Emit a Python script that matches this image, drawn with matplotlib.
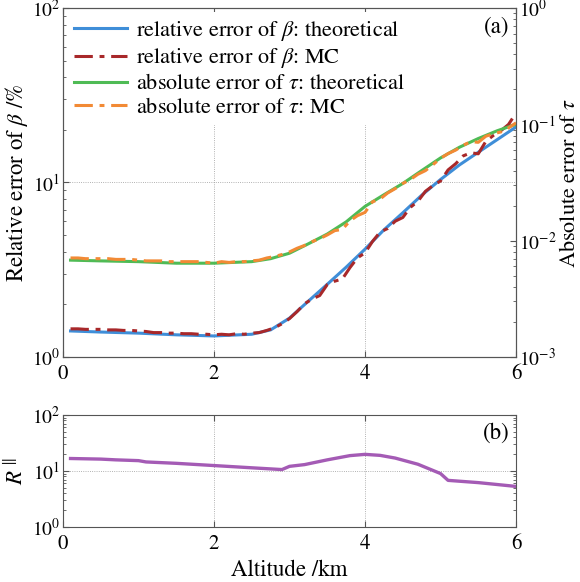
import numpy as np
import matplotlib
matplotlib.use("Agg")
import matplotlib.pyplot as plt
from matplotlib.ticker import LogLocator, NullFormatter

plt.rcParams["font.family"] = ["STIXGeneral", "DejaVu Serif"]
plt.rcParams["mathtext.fontset"] = "stix"

# theoretical curves
alt_theo = [0.1, 0.5, 1.0, 1.5, 2.0, 2.5, 2.75, 3.0, 3.25, 3.5, 3.75, 4.0, 4.25, 4.5,
            4.75, 5.0, 5.25, 5.5, 5.75, 6.0]
beta_theo = [1.41, 1.39, 1.37, 1.34, 1.32, 1.35, 1.43, 1.67, 2.09, 2.61, 3.27, 4.15, 5.35,
             6.7, 8.45, 10.4, 12.6, 14.9, 17.6, 20.8]
tau_theo = [0.0068, 0.0067, 0.0066, 0.0064, 0.0064, 0.0066, 0.0070, 0.0078, 0.0094,
            0.0114, 0.0145, 0.0197, 0.0248, 0.031, 0.040, 0.0514, 0.0635, 0.0755, 0.088,
            0.100]

# Monte Carlo curves, every 0.1 km
alt_mc = np.round(np.arange(0.1, 6.01, 0.1), 1)
beta_mc = [1.45, 1.45, 1.44, 1.44, 1.44, 1.43, 1.43, 1.42, 1.42, 1.41,
           1.40, 1.38, 1.38, 1.37, 1.37, 1.36, 1.36, 1.35, 1.35, 1.34,
           1.35, 1.34, 1.36, 1.35, 1.37, 1.38, 1.42, 1.47, 1.55, 1.66,
           1.82, 2.02, 2.15, 2.25, 2.60, 2.72, 2.80, 3.25, 3.7, 3.95,
           4.6, 5.2, 5.45, 6.0, 6.3, 7.2, 7.8, 8.9, 9.6, 10.2,
           11.8, 12.8, 14.2, 14.8, 14.6, 17.2, 18.6, 19.8, 21.5, 25.0]
tau_mc = [0.0071, 0.0071, 0.0070, 0.0070, 0.0070, 0.0070, 0.0069, 0.0069, 0.0069, 0.0068,
          0.0067, 0.0067, 0.0067, 0.0066, 0.0066, 0.0066, 0.0066, 0.0066, 0.0065, 0.0064,
          0.0066, 0.0065, 0.0066, 0.0066, 0.0067, 0.0068, 0.0071, 0.0073, 0.0076, 0.0080,
          0.0086, 0.0091, 0.0098, 0.0104, 0.0112, 0.0122, 0.0125, 0.0148, 0.0164, 0.0175,
          0.0216, 0.0228, 0.0257, 0.0280, 0.0310, 0.0335, 0.0372, 0.0400, 0.0450, 0.0510,
          0.0560, 0.0600, 0.0660, 0.0710, 0.0700, 0.0790, 0.0830, 0.0860, 0.0930, 0.1030]

# ratio panel (b)
alt_r = [0.1, 0.5, 0.7, 1.0, 1.1, 1.5, 2.0, 2.5, 2.9, 3.0, 3.2, 3.5, 3.8, 4.0, 4.2,
         4.4, 4.7, 5.0, 5.1, 5.5, 6.0]
ratio = [16.7, 16.3, 15.8, 15.3, 14.5, 13.7, 12.5, 11.4, 10.6, 12.1, 13.0, 15.8, 18.8,
         19.8, 19.0, 17.0, 13.2, 9.0, 6.8, 6.2, 5.3]

c_blue = "#3f8ed8"
c_red = "#a8282a"
c_green = "#4fbb55"
c_orange = "#f28a35"
c_purple = "#a45bb5"
dashdot = (0, (6, 2.2, 1.6, 2.2))
fs_tick = 14
fs_lab = 16.5

fig = plt.figure(figsize=(5.8, 5.82), dpi=100)
ax = fig.add_axes([0.1086, 0.3866, 0.7811, 0.5997])
ax2 = ax.twinx()
axb = fig.add_axes([0.1086, 0.0945, 0.7811, 0.1925])

l1, = ax.plot(alt_theo, beta_theo, color=c_blue, lw=2.2)
l2, = ax.plot(alt_mc, beta_mc, color=c_red, lw=2.2, linestyle=dashdot)
l3, = ax2.plot(alt_theo, tau_theo, color=c_green, lw=2.2)
l4, = ax2.plot(alt_mc, tau_mc, color=c_orange, lw=2.2, linestyle=dashdot)

ax.set_yscale("log")
ax.set_ylim(1, 100)
ax2.set_yscale("log")
ax2.set_ylim(1e-3, 1)
ax.set_xlim(0, 6)
ax.set_xticks([0, 2, 4, 6])

ax.set_ylabel(r"Relative error of $\beta$ /%", fontsize=fs_lab)
ax.yaxis.set_label_coords(-0.072, 0.5)
ax2.set_ylabel(r"Absolute error of $\tau$", fontsize=16)
ax2.yaxis.set_label_coords(1.096, 0.5)

ax.grid(True, which="major", color="#999999", lw=0.6, linestyle=":")
ax.grid(False, which="minor")

for a in (ax, ax2, axb):
    a.tick_params(which="both", direction="in", labelsize=fs_tick, pad=2, color="#555555")
    a.tick_params(which="major", length=4)
    a.tick_params(which="minor", length=2.5)
    for s in a.spines.values():
        s.set_color("#555555")
ax.tick_params(which="both", top=True, right=False)
ax.tick_params(axis="x", pad=5, labelsize=15)
ax2.tick_params(which="both", right=True)
axb.tick_params(which="both", top=True, right=True)
axb.tick_params(axis="x", pad=5, labelsize=15)

leg = ax2.legend([l1, l2, l3, l4],
                 [r"relative error of $\beta$: theoretical",
                  r"relative error of $\beta$: MC",
                  r"absolute error of $\tau$: theoretical",
                  r"absolute error of $\tau$: MC"],
                 loc="upper left", fontsize=16, handlelength=2.4, frameon=True,
                 facecolor="white", edgecolor="none", framealpha=1,
                 borderaxespad=0.2, borderpad=0.3, labelspacing=0.15,
                 handletextpad=0.4)
ax.text(0.985, 0.975, "(a)", transform=ax.transAxes, ha="right", va="top",
        fontsize=fs_lab)

axb.plot(alt_r, ratio, color=c_purple, lw=2.4)
axb.set_yscale("log")
axb.set_ylim(1, 100)
axb.set_xlim(0, 6)
axb.set_xticks([0, 2, 4, 6])
axb.grid(True, which="major", color="#999999", lw=0.6, linestyle=":")
axb.set_ylabel(r"$R^{\parallel}$", fontsize=fs_lab)
axb.yaxis.set_label_coords(-0.077, 0.5)
axb.set_xlabel("Altitude /km", fontsize=fs_lab)
axb.xaxis.set_label_coords(0.5, -0.29)
axb.text(0.985, 0.93, "(b)", transform=axb.transAxes, ha="right", va="top",
         fontsize=fs_lab)

for a in (ax, ax2, axb):
    a.yaxis.set_minor_locator(LogLocator(base=10, subs=np.arange(2, 10)))
    a.yaxis.set_minor_formatter(NullFormatter())

fig.savefig("out.png", dpi=100)
